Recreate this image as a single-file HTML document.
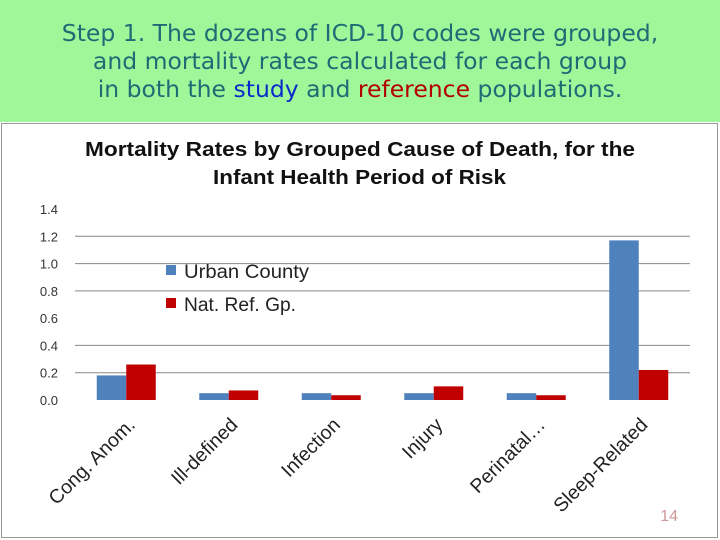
<!DOCTYPE html>
<html><head><meta charset="utf-8"><style>
body{margin:0;width:720px;height:540px;overflow:hidden;background:#fff;font-family:"Liberation Sans",sans-serif}
#hdr{position:absolute;left:0;top:0;width:720px;height:122px;background:#a0f79a}
#hdr div{position:absolute;left:0;width:720px;text-align:center;font-family:"DejaVu Sans",sans-serif;font-size:23.5px;color:#1f6b75;line-height:28px}
</style></head><body>
<div id="hdr">
<div style="top:19px">Step 1. The dozens of ICD-10 codes were grouped,</div>
<div style="top:47px">and mortality rates calculated for each group</div>
<div style="top:75px">in both the <span style="color:#0a2bc8">study</span> and <span style="color:#b30000">reference</span> populations.</div>
</div>
<svg id="chart" width="720" height="540" style="position:absolute;left:0;top:0">
<rect x="1.5" y="123.5" width="716" height="414" fill="#fff" stroke="#999"/>
<text x="85" y="156" textLength="550" lengthAdjust="spacingAndGlyphs" font-size="20" font-weight="bold" fill="#111">Mortality Rates by Grouped Cause of Death, for the</text>
<text x="213" y="184" textLength="293" lengthAdjust="spacingAndGlyphs" font-size="20" font-weight="bold" fill="#111">Infant Health Period of Risk</text>
<g id="plot"></g>
<rect x="166" y="265" width="10" height="10" fill="#4f81bd"/>
<text x="184" y="278" textLength="125" lengthAdjust="spacingAndGlyphs" font-size="19" fill="#222">Urban County</text>
<rect x="166" y="298" width="10" height="10" fill="#c00000"/>
<text x="184" y="311" textLength="112" lengthAdjust="spacingAndGlyphs" font-size="19" fill="#222">Nat. Ref. Gp.</text>
<text x="678" y="521" text-anchor="end" font-size="16" fill="#c99">14</text>
</svg>
<script>
const categories=["Cong. Anom.","Ill-defined","Infection","Injury","Perinatal…","Sleep-Related"];
const urbanValues=[0.18,0.05,0.05,0.05,0.05,1.17];
const refValues=[0.26,0.07,0.035,0.10,0.035,0.22];
const tickLabels=["0.0","0.2","0.4","0.6","0.8","1.0","1.2","1.4"];
const gridValues=[0.2,0.4,0.8,1.0,1.2];
const NS="http://www.w3.org/2000/svg";
const g=document.getElementById('plot');
const x0=75,x1=690,yBase=400,yTop=209,vMax=1.4;
const y=v=>yBase-(v/vMax)*(yBase-yTop);
const gw=(x1-x0)/categories.length;
function mk(t,a){const e=document.createElementNS(NS,t);for(const k in a)e.setAttribute(k,a[k]);g.appendChild(e);return e;}
gridValues.forEach(v=>{
const l=mk('line',{x1:x0,x2:x1,y1:y(v),y2:y(v),stroke:'#888','stroke-width':1});


});
tickLabels.forEach(t=>{
const e=mk('text',{x:58,y:y(parseFloat(t))+5,'text-anchor':'end','font-size':13,fill:'#333'});
e.textContent=t;


});
const bw=29.5;
categories.forEach((c,i)=>{
const cx=x0+gw*(i+0.5);
const b=mk('rect',{x:cx-bw,y:y(urbanValues[i]),width:bw,height:yBase-y(urbanValues[i]),fill:'#4f81bd'});


const r=mk('rect',{x:cx,y:y(refValues[i]),width:bw,height:yBase-y(refValues[i]),fill:'#c00000'});


const t=mk('text',{x:0,y:0,'text-anchor':'end','font-size':19.5,fill:'#222',transform:`translate(${cx+10},${yBase+26}) rotate(-45)`});
t.textContent=c;


});
</script>
</body></html>
